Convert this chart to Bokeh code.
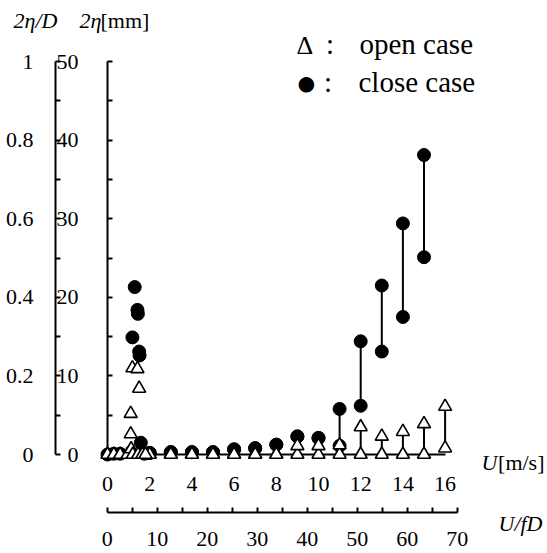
from bokeh.plotting import figure
from bokeh.models import Range1d, LinearAxis, FixedTicker, Label
from bokeh.embed import file_html
from bokeh.resources import INLINE

# ---------------- data ----------------
# flow sweep, U [m/s]
sweep_u = [2, 3, 4, 5, 6, 7, 8, 9, 10, 11, 12, 13, 14, 15, 16]
open_min = [0, 0, 0, 0, 0, 0, 0, 0, 0, 0, 0, 0, 0, 0, 0.8]
open_max = [0, 0, 0, 0, 0, 0, 0, 1.1, 1.1, 1.2, 3.5, 2.3, 2.9, 3.9, 6.1]

close_u = [2, 3, 4, 5, 6, 7, 8, 9, 10, 11, 12, 13, 14, 15]
close_min = [0.2, 0.3, 0.3, 0.3, 0.65, 0.8, 1.25, 2.3, 2.1, 1.1, 6.2, 13.1, 17.5, 25.1]
close_max = [0.2, 0.3, 0.3, 0.3, 0.65, 0.8, 1.25, 2.3, 2.1, 5.8, 14.4, 21.5, 29.4, 38.1]

# lock-in region (low U)
res_open_u = [0, 0.3, 0.6, 0.95, 1.1, 1.12, 1.1, 1.18, 1.2, 1.42, 1.45, 1.5, 1.65, 1.8]
res_open_mm = [0, 0, 0, 0, 2.6, 0.7, 5.2, 11.0, 0, 10.9, 0, 8.4, 0, 0]
res_close_u = [0, 0.3, 0.6, 1.18, 1.29, 1.42, 1.44, 1.5, 1.52, 1.58, 1.75]
res_close_mm = [0, 0.1, 0.1, 14.9, 21.3, 18.4, 17.9, 13.1, 12.6, 1.5, 0.1]

# axes
u_ticks = [0, 2, 4, 6, 8, 10, 12, 14, 16]
fd_ticks = [0, 10, 20, 30, 40, 50, 60, 70]
fd_minor = [5, 15, 25, 35, 45, 55, 65]
mm_ticks = [0, 10, 20, 30, 40, 50]
mm_minor = [5, 15, 25, 35, 45]
nd_ticks = [0, 0.2, 0.4, 0.6, 0.8, 1]
nd_labels = ["0", "0.2", "0.4", "0.6", "0.8", "1"]
nd_minor = [0.1, 0.3, 0.5, 0.7, 0.9]

# ---------------- layout ----------------
W, H = 547, 553
PX_U = 21.1      # px per m/s
PX_MM = 7.86     # px per mm
PX_FD = 5.0      # px per U/fD unit
U0_PX = 107.0    # x of U = 0
Y0_PX = 454.0    # y of 2eta = 0

xs = -U0_PX / PX_U
xe = xs + W / PX_U
ys = -(H - Y0_PX) / PX_MM
ye = ys + H / PX_MM
fds = -(U0_PX - 0.3) / PX_FD
fde = fds + W / PX_FD

def px2x(px):
    return xs + px / PX_U

def py2y(py):
    return ys + (H - py) / PX_MM

FONT = "Liberation Serif"
TICK_FS = "22px"

p = figure(width=W, height=H, output_backend="svg", toolbar_location=None,
           x_range=Range1d(xs, xe), y_range=Range1d(ys, ye),
           x_axis_type=None, y_axis_type=None, min_border=0,
           outline_line_color=None, background_fill_color="white",
           border_fill_color="white")
p.grid.visible = False
p.extra_y_ranges = {"nd": Range1d(ys / 50.0, ye / 50.0)}
p.extra_x_ranges = {"fd": Range1d(fds, fde)}


def style(ax, standoff):
    ax.level = "underlay"
    ax.axis_line_width = 2
    ax.axis_line_color = "black"
    ax.major_tick_line_width = 2
    ax.minor_tick_line_width = 2
    ax.major_tick_line_color = "black"
    ax.minor_tick_line_color = "black"
    ax.major_label_text_font = FONT
    ax.major_label_text_font_size = TICK_FS
    ax.major_label_text_color = "black"
    ax.major_label_standoff = standoff


# U axis (at 2eta = 0)
ax_u = LinearAxis(fixed_location=0, bounds=(0, 16), ticker=FixedTicker(ticks=u_ticks))
style(ax_u, 22)
ax_u.major_tick_in = 0
ax_u.major_tick_out = 0
ax_u.minor_tick_in = 0
ax_u.minor_tick_out = 0
p.add_layout(ax_u, "below")

# U/fD axis
ax_fd = LinearAxis(x_range_name="fd", fixed_location=py2y(512), bounds=(0, 70),
                   ticker=FixedTicker(ticks=fd_ticks, minor_ticks=fd_minor))
style(ax_fd, 19)
ax_fd.major_tick_in = 5
ax_fd.major_tick_out = 0
ax_fd.minor_tick_in = 5
ax_fd.minor_tick_out = 0
p.add_layout(ax_fd, "below")

# 2eta [mm] axis (at U = 0)
ax_mm = LinearAxis(fixed_location=0, bounds=(0, 50),
                   ticker=FixedTicker(ticks=mm_ticks, minor_ticks=mm_minor))
style(ax_mm, 29)
ax_mm.major_tick_in = 5
ax_mm.major_tick_out = 0
ax_mm.minor_tick_in = 5
ax_mm.minor_tick_out = 0
p.add_layout(ax_mm, "left")

# 2eta/D axis
ax_nd = LinearAxis(y_range_name="nd", fixed_location=px2x(55), bounds=(0, 1),
                   ticker=FixedTicker(ticks=nd_ticks, minor_ticks=nd_minor),
                   major_label_overrides=dict(zip(nd_ticks, nd_labels)))
style(ax_nd, 22)
ax_nd.major_tick_in = 5
ax_nd.major_tick_out = 0
ax_nd.minor_tick_in = 5
ax_nd.minor_tick_out = 0
p.add_layout(ax_nd, "left")

# ---------------- data marks ----------------
p.segment(x0=close_u, y0=close_min, x1=close_u, y1=close_max, line_width=2, line_color="black")
p.scatter(x=close_u + close_u + res_close_u, y=close_min + close_max + res_close_mm,
          marker="circle", size=13, fill_color="black", line_color="black", line_width=1)
p.segment(x0=sweep_u, y0=open_min, x1=sweep_u, y1=open_max, line_width=2, line_color="black")
p.scatter(x=sweep_u + sweep_u + res_open_u, y=open_min + open_max + res_open_mm,
          marker="triangle", size=13, fill_color="white", line_color="black", line_width=1.6)

# ---------------- texts ----------------
def txt(text, px, py, size=TICK_FS, style="normal", align="left", font=FONT):
    p.add_layout(Label(x=px2x(px), y=py2y(py), text=text, text_font=font,
                       text_font_size=size, text_font_style=style, text_align=align,
                       text_baseline="middle", text_color="black"))

# axis titles (y = vertical middle of the text)
txt("2η/D", 13, 20, style="italic")
txt("2η", 79, 20, style="italic")
txt("[mm]", 100, 20)
txt("[m/s]", 544, 462, align="right")
txt("U", 497, 462, style="italic", align="right")
txt("U/fD", 542, 523, style="italic", align="right")

# legend
LEG_FS = "29px"
txt("Δ", 296, 45, size="26px")
txt(":", 329.5, 43, size=LEG_FS, align="center")
txt("open case", 359, 43, size=LEG_FS)
txt("●", 295, 82.5, size="36px")
txt(":", 327.5, 81, size=LEG_FS, align="center")
txt("close case", 358, 81, size=LEG_FS)

open("out.html", "w").write(file_html(p, INLINE))
